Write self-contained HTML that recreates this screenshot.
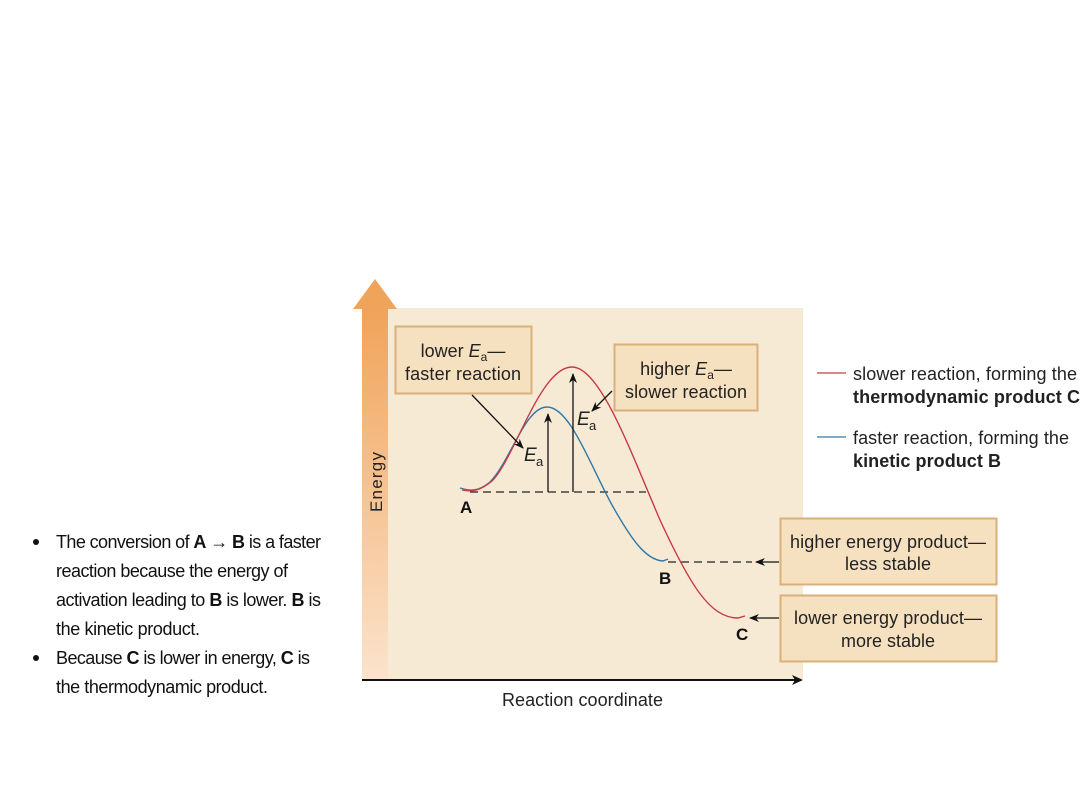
<!DOCTYPE html>
<html><head><meta charset="utf-8"><style>
html,body{margin:0;padding:0;background:#fff;}
svg{display:block;font-family:"Liberation Sans Narrow","Liberation Sans",sans-serif;}
</style></head><body>
<svg width="1080" height="810" viewBox="0 0 1080 810" xmlns="http://www.w3.org/2000/svg">
<defs>
<linearGradient id="bar" x1="0" y1="0" x2="0" y2="1">
<stop offset="0" stop-color="#f0a35a"/><stop offset="1" stop-color="#fbe3cc"/>
</linearGradient>
<marker id="ah" markerWidth="10" markerHeight="8" refX="9" refY="4" orient="auto" markerUnits="userSpaceOnUse">
<path d="M0,0 L10,4 L0,8 L3,4 z" fill="#111"/>
</marker>
</defs>
<!-- panel -->
<rect x="388" y="308" width="415" height="371" fill="#f7ead5"/>
<!-- energy arrow -->
<rect x="362" y="308" width="26" height="371" fill="url(#bar)"/>
<polygon points="353,309 375,279 397,309" fill="#f0a35a"/>
<text transform="translate(382,512) rotate(-90)" font-size="17" fill="#222" textLength="60">Energy</text>
<!-- x axis -->
<line x1="362" y1="680" x2="796" y2="680" stroke="#111" stroke-width="2"/>
<polygon points="803,680 792,675 795,680 792,685" fill="#111"/>
<text x="502" y="706" font-size="18" fill="#222" textLength="161">Reaction coordinate</text>
<!-- dashed -->
<line x1="470" y1="492" x2="646" y2="492" stroke="#222" stroke-width="1.3" stroke-dasharray="8,5"/>
<line x1="668" y1="562" x2="752" y2="562" stroke="#222" stroke-width="1.3" stroke-dasharray="8,5"/>
<!-- curves -->
<path d="M460,488 C470,491 478,492 490,482 C510,462 525,407 547,407 C570,407 590,465 612,505 C630,537 645,560 663,561 L668,559" fill="none" stroke="#2f78a8" stroke-width="1.4"/>
<path d="M462,490 C472,492 480,491 492,481 C515,458 540,367 572,367 C600,367 630,450 660,520 C690,585 710,618 738,618 L745,616" fill="none" stroke="#c83a45" stroke-width="1.4"/>
<!-- Ea arrows -->
<line x1="548" y1="492" x2="548" y2="414" stroke="#111" stroke-width="1.3" marker-end="url(#ah)"/>
<line x1="573" y1="492" x2="573" y2="374" stroke="#111" stroke-width="1.3" marker-end="url(#ah)"/>
<line x1="472" y1="395" x2="523" y2="448" stroke="#111" stroke-width="1.3" marker-end="url(#ah)"/>
<line x1="612" y1="391" x2="592" y2="411" stroke="#111" stroke-width="1.3" marker-end="url(#ah)"/>
<text x="524" y="461" font-size="19" font-style="italic" fill="#222">E</text><text x="536" y="466" font-size="13" fill="#222">a</text>
<text x="577" y="425" font-size="19" font-style="italic" fill="#222">E</text><text x="589" y="430" font-size="13" fill="#222">a</text>
<!-- labels A B C -->
<text x="460" y="513" font-size="17" font-weight="bold" fill="#111">A</text>
<text x="659" y="584" font-size="17" font-weight="bold" fill="#111">B</text>
<text x="736" y="640" font-size="17" font-weight="bold" fill="#111">C</text>
<!-- boxes -->
<rect x="395.5" y="326.5" width="136" height="67" fill="#f5e1c0" stroke="#d9b07a" stroke-width="2"/>
<text x="463" y="357" font-size="18" fill="#222" text-anchor="middle">lower <tspan font-style="italic">E</tspan><tspan font-size="12" dy="4">a</tspan><tspan dy="-4">—</tspan></text>
<text x="463" y="380" font-size="18" fill="#222" text-anchor="middle" textLength="116">faster reaction</text>
<rect x="614.5" y="344.5" width="143" height="66" fill="#f5e1c0" stroke="#d9b07a" stroke-width="2"/>
<text x="686" y="375" font-size="18" fill="#222" text-anchor="middle">higher <tspan font-style="italic">E</tspan><tspan font-size="12" dy="4">a</tspan><tspan dy="-4">—</tspan></text>
<text x="686" y="398" font-size="18" fill="#222" text-anchor="middle" textLength="122">slower reaction</text>
<rect x="780.5" y="518.5" width="216" height="66" fill="#f5e1c0" stroke="#d9b07a" stroke-width="2"/>
<text x="888" y="548" font-size="18" fill="#222" text-anchor="middle" textLength="196">higher energy product—</text>
<text x="888" y="570" font-size="18" fill="#222" text-anchor="middle" textLength="86">less stable</text>
<rect x="780.5" y="595.5" width="216" height="66" fill="#f5e1c0" stroke="#d9b07a" stroke-width="2"/>
<text x="888" y="624" font-size="18" fill="#222" text-anchor="middle" textLength="188">lower energy product—</text>
<text x="888" y="647" font-size="18" fill="#222" text-anchor="middle" textLength="94">more stable</text>
<line x1="779" y1="562" x2="756" y2="562" stroke="#111" stroke-width="1.3" marker-end="url(#ah)"/>
<line x1="779" y1="618" x2="750" y2="618" stroke="#111" stroke-width="1.3" marker-end="url(#ah)"/>
<!-- legend -->
<line x1="817" y1="373" x2="846" y2="373" stroke="#c83a45" stroke-width="1.3"/>
<text x="853" y="380" font-size="18" fill="#222" textLength="224">slower reaction, forming the</text>
<text x="853" y="403" font-size="18" font-weight="bold" fill="#222" textLength="227">thermodynamic product C</text>
<line x1="817" y1="437" x2="846" y2="437" stroke="#2f78a8" stroke-width="1.3"/>
<text x="853" y="444" font-size="18" fill="#222" textLength="216">faster reaction, forming the</text>
<text x="853" y="467" font-size="18" font-weight="bold" fill="#222" textLength="148">kinetic product B</text>
<!-- bullets -->
<g font-size="18" fill="#111">
<circle cx="36" cy="542" r="3"/>
<text x="56" y="548" textLength="265">The conversion of <tspan font-weight="bold">A</tspan> → <tspan font-weight="bold">B</tspan> is a faster</text>
<text x="56" y="577" textLength="232">reaction because the energy of</text>
<text x="56" y="606" textLength="265">activation leading to <tspan font-weight="bold">B</tspan> is lower. <tspan font-weight="bold">B</tspan> is</text>
<text x="56" y="635" textLength="144">the kinetic product.</text>
<circle cx="36" cy="658" r="3"/>
<text x="56" y="664" textLength="254">Because <tspan font-weight="bold">C</tspan> is lower in energy, <tspan font-weight="bold">C</tspan> is</text>
<text x="56" y="693" textLength="212">the thermodynamic product.</text>
</g>
</svg>
</body></html>
